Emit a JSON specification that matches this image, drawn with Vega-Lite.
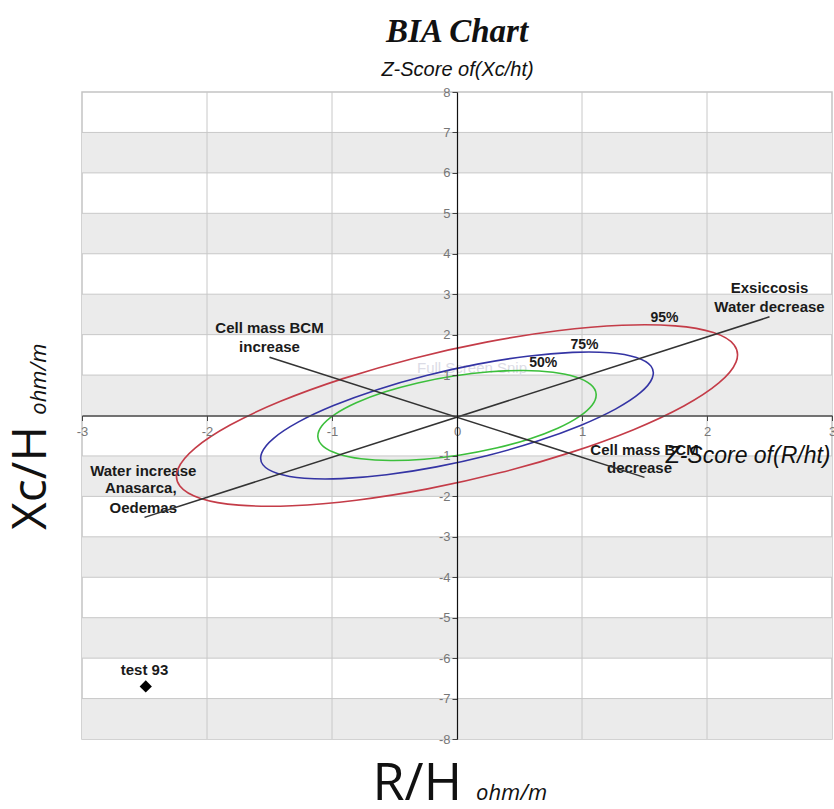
{
  "$schema": "https://vega.github.io/schema/vega-lite/v6.json",
  "width": 750,
  "height": 647,
  "autosize": {"type": "none"},
  "padding": {"left": 82, "top": 92, "right": 2, "bottom": 70},
  "background": "white",
  "config": {
    "font": "Liberation Sans",
    "view": {"stroke": "#c4c4c4", "strokeWidth": 1.5},
    "axis": {"grid": false}
  },
  "resolve": {"axis": {"x": "independent", "y": "independent"}},
  "datasets": {
    "bands": [
      {"lo": 6, "hi": 7}, {"lo": 4, "hi": 5}, {"lo": 2, "hi": 3}, {"lo": 0, "hi": 1},
      {"lo": -2, "hi": -1}, {"lo": -4, "hi": -3}, {"lo": -6, "hi": -5}, {"lo": -8, "hi": -7}
    ],
    "vgrid": [{"x": -2}, {"x": -1}, {"x": 1}, {"x": 2}],
    "hgrid": [
      {"y": -7}, {"y": -6}, {"y": -5}, {"y": -4}, {"y": -3}, {"y": -2}, {"y": -1},
      {"y": 1}, {"y": 2}, {"y": 3}, {"y": 4}, {"y": 5}, {"y": 6}, {"y": 7}
    ],
    "labels": [
      {"x": -1.5, "y": 2.17, "t": "Cell mass BCM"},
      {"x": -1.5, "y": 1.70, "t": "increase"},
      {"x": 2.5, "y": 3.16, "t": "Exsiccosis"},
      {"x": 2.5, "y": 2.69, "t": "Water decrease"},
      {"x": -2.51, "y": -1.37, "t": "Water increase"},
      {"x": -2.53, "y": -1.80, "t": "Anasarca,"},
      {"x": -2.51, "y": -2.29, "t": "Oedemas"},
      {"x": 1.5, "y": -0.85, "t": "Cell mass BCM"},
      {"x": 1.46, "y": -1.30, "t": "decrease"},
      {"x": -2.5, "y": -6.30, "t": "test 93"}
    ],
    "pct": [
      {"x": 1.66, "y": 2.41, "t": "95%"},
      {"x": 1.02, "y": 1.75, "t": "75%"},
      {"x": 0.69, "y": 1.30, "t": "50%"}
    ],
    "watermark": [{"x": 0.12, "y": 1.17, "t": "Full Screen Snip"}],
    "heading": [{"x": 0, "y": 9.245, "t": "BIA Chart"}],
    "ellipses": [
      {"level": "95%", "i": 0, "x": 2.051, "y": 2.051},
      {"level": "95%", "i": 1, "x": 2.217, "y": 1.745},
      {"level": "95%", "i": 2, "x": 2.232, "y": 1.320},
      {"level": "95%", "i": 3, "x": 2.095, "y": 0.805},
      {"level": "95%", "i": 4, "x": 1.815, "y": 0.235},
      {"level": "95%", "i": 5, "x": 1.412, "y": -0.350},
      {"level": "95%", "i": 6, "x": 0.912, "y": -0.912},
      {"level": "95%", "i": 7, "x": 0.350, "y": -1.412},
      {"level": "95%", "i": 8, "x": -0.235, "y": -1.815},
      {"level": "95%", "i": 9, "x": -0.805, "y": -2.095},
      {"level": "95%", "i": 10, "x": -1.320, "y": -2.232},
      {"level": "95%", "i": 11, "x": -1.745, "y": -2.217},
      {"level": "95%", "i": 12, "x": -2.051, "y": -2.051},
      {"level": "95%", "i": 13, "x": -2.217, "y": -1.745},
      {"level": "95%", "i": 14, "x": -2.232, "y": -1.320},
      {"level": "95%", "i": 15, "x": -2.095, "y": -0.805},
      {"level": "95%", "i": 16, "x": -1.815, "y": -0.235},
      {"level": "95%", "i": 17, "x": -1.412, "y": 0.350},
      {"level": "95%", "i": 18, "x": -0.912, "y": 0.912},
      {"level": "95%", "i": 19, "x": -0.350, "y": 1.412},
      {"level": "95%", "i": 20, "x": 0.235, "y": 1.815},
      {"level": "95%", "i": 21, "x": 0.805, "y": 2.095},
      {"level": "95%", "i": 22, "x": 1.320, "y": 2.232},
      {"level": "95%", "i": 23, "x": 1.745, "y": 2.217},
      {"level": "75%", "i": 0, "x": 1.435, "y": 1.435},
      {"level": "75%", "i": 1, "x": 1.552, "y": 1.221},
      {"level": "75%", "i": 2, "x": 1.562, "y": 0.924},
      {"level": "75%", "i": 3, "x": 1.467, "y": 0.564},
      {"level": "75%", "i": 4, "x": 1.271, "y": 0.165},
      {"level": "75%", "i": 5, "x": 0.988, "y": -0.245},
      {"level": "75%", "i": 6, "x": 0.639, "y": -0.639},
      {"level": "75%", "i": 7, "x": 0.245, "y": -0.988},
      {"level": "75%", "i": 8, "x": -0.165, "y": -1.271},
      {"level": "75%", "i": 9, "x": -0.564, "y": -1.467},
      {"level": "75%", "i": 10, "x": -0.924, "y": -1.562},
      {"level": "75%", "i": 11, "x": -1.221, "y": -1.552},
      {"level": "75%", "i": 12, "x": -1.435, "y": -1.435},
      {"level": "75%", "i": 13, "x": -1.552, "y": -1.221},
      {"level": "75%", "i": 14, "x": -1.562, "y": -0.924},
      {"level": "75%", "i": 15, "x": -1.467, "y": -0.564},
      {"level": "75%", "i": 16, "x": -1.271, "y": -0.165},
      {"level": "75%", "i": 17, "x": -0.988, "y": 0.245},
      {"level": "75%", "i": 18, "x": -0.639, "y": 0.639},
      {"level": "75%", "i": 19, "x": -0.245, "y": 0.988},
      {"level": "75%", "i": 20, "x": 0.165, "y": 1.271},
      {"level": "75%", "i": 21, "x": 0.564, "y": 1.467},
      {"level": "75%", "i": 22, "x": 0.924, "y": 1.562},
      {"level": "75%", "i": 23, "x": 1.221, "y": 1.552},
      {"level": "50%", "i": 0, "x": 0.950, "y": 0.950},
      {"level": "50%", "i": 1, "x": 1.068, "y": 0.768},
      {"level": "50%", "i": 2, "x": 1.113, "y": 0.533},
      {"level": "50%", "i": 3, "x": 1.082, "y": 0.262},
      {"level": "50%", "i": 4, "x": 0.977, "y": -0.027},
      {"level": "50%", "i": 5, "x": 0.806, "y": -0.314},
      {"level": "50%", "i": 6, "x": 0.580, "y": -0.580},
      {"level": "50%", "i": 7, "x": 0.314, "y": -0.806},
      {"level": "50%", "i": 8, "x": 0.027, "y": -0.977},
      {"level": "50%", "i": 9, "x": -0.262, "y": -1.082},
      {"level": "50%", "i": 10, "x": -0.533, "y": -1.113},
      {"level": "50%", "i": 11, "x": -0.768, "y": -1.068},
      {"level": "50%", "i": 12, "x": -0.950, "y": -0.950},
      {"level": "50%", "i": 13, "x": -1.068, "y": -0.768},
      {"level": "50%", "i": 14, "x": -1.113, "y": -0.533},
      {"level": "50%", "i": 15, "x": -1.082, "y": -0.262},
      {"level": "50%", "i": 16, "x": -0.977, "y": 0.027},
      {"level": "50%", "i": 17, "x": -0.806, "y": 0.314},
      {"level": "50%", "i": 18, "x": -0.580, "y": 0.580},
      {"level": "50%", "i": 19, "x": -0.314, "y": 0.806},
      {"level": "50%", "i": 20, "x": -0.027, "y": 0.977},
      {"level": "50%", "i": 21, "x": 0.262, "y": 1.082},
      {"level": "50%", "i": 22, "x": 0.533, "y": 1.113},
      {"level": "50%", "i": 23, "x": 0.768, "y": 1.068}
    ],
    "segments": [
      {"x": -2.5, "y": -2.52, "x2": 2.5, "y2": 2.44},
      {"x": -1.5, "y": 1.44, "x2": 1.5, "y2": -1.53}
    ],
    "points": [{"name": "test 93", "x": -2.49, "y": -6.70}],
    "bottomBig": [{"x": 0.04, "y": -9.52, "t": "R/H"}],
    "bottomSmall": [{"x": 0.152, "y": -9.52, "t": "ohm/m"}],
    "leftBig": [{"x": -3.285, "y": -2.83, "t": "Xc/H"}],
    "leftSmall": [{"x": -3.285, "y": 0.02, "t": "ohm/m"}]
  },
  "layer": [
    {
      "data": {"name": "bands"},
      "mark": {"type": "rect", "color": "#ebebeb"},
      "encoding": {
        "x": {"datum": -3, "type": "quantitative", "scale": {"domain": [-3, 3], "nice": false, "zero": false}, "axis": null},
        "x2": {"datum": 3},
        "y": {"field": "lo", "type": "quantitative", "scale": {"domain": [-8, 8], "nice": false, "zero": false}, "axis": null},
        "y2": {"field": "hi"}
      }
    },
    {
      "data": {"name": "vgrid"},
      "mark": {"type": "rule", "color": "#c8c8c8", "strokeWidth": 1},
      "encoding": {
        "x": {"field": "x", "type": "quantitative", "axis": null}
      }
    },
    {
      "data": {"name": "hgrid"},
      "mark": {"type": "rule", "color": "#c8c8c8", "strokeWidth": 1},
      "encoding": {
        "y": {"field": "y", "type": "quantitative", "axis": null}
      }
    },
    {
      "data": {"name": "watermark"},
      "mark": {"type": "text", "fontSize": 15, "color": "#dcdce6", "align": "center", "baseline": "middle"},
      "encoding": {
        "x": {"field": "x", "type": "quantitative", "axis": null},
        "y": {"field": "y", "type": "quantitative", "axis": null},
        "text": {"field": "t"}
      }
    },
    {
      "data": {"name": "labels"},
      "mark": {"type": "text", "fontSize": 15, "fontWeight": "bold", "color": "#1a1a1a", "align": "center", "baseline": "middle"},
      "encoding": {
        "x": {"field": "x", "type": "quantitative", "axis": null},
        "y": {"field": "y", "type": "quantitative", "axis": null},
        "text": {"field": "t"}
      }
    },
    {
      "data": {"name": "pct"},
      "mark": {"type": "text", "fontSize": 14, "fontWeight": "bold", "color": "#1a1a1a", "align": "center", "baseline": "middle"},
      "encoding": {
        "x": {"field": "x", "type": "quantitative", "axis": null},
        "y": {"field": "y", "type": "quantitative", "axis": null},
        "text": {"field": "t"}
      }
    },
    {
      "data": {"name": "ellipses"},
      "mark": {"type": "line", "interpolate": "cardinal-closed", "strokeWidth": 1.6},
      "encoding": {
        "x": {
          "field": "x", "type": "quantitative",
          "axis": {
            "orient": "bottom", "offset": -323.5,
            "values": [-3, -2, -1, 0, 1, 2, 3],
            "labelExpr": "'' + datum.value",
            "domainColor": "#444444", "domainWidth": 1.5,
            "tickColor": "#444444", "tickSize": 5, "tickWidth": 1,
            "labelColor": "#777777", "labelFontSize": 13, "labelPadding": 5,
            "labelFlush": false, "labelOverlap": false, "labelBound": false,
            "title": "Z-Score of(R/ht)", "titleFontStyle": "italic", "titleFontWeight": "normal",
            "titleFontSize": 23, "titleColor": "#111111",
            "titleX": 748, "titleY": 47, "titleAlign": "right", "titleBaseline": "alphabetic",
            "zindex": 1, "grid": false
          }
        },
        "y": {
          "field": "y", "type": "quantitative",
          "axis": {
            "orient": "left", "offset": -375,
            "values": [-8, -7, -6, -5, -4, -3, -2, -1, 1, 2, 3, 4, 5, 6, 7, 8],
            "labelExpr": "'' + datum.value",
            "domainColor": "#111111", "domainWidth": 1.2,
            "tickColor": "#444444", "tickSize": 5, "tickWidth": 1,
            "labelColor": "#777777", "labelFontSize": 13, "labelPadding": 2,
            "labelOverlap": false, "labelBound": false, "labelFlush": false,
            "title": "Z-Score of(Xc/ht)", "titleAngle": 0, "titleFontStyle": "italic", "titleFontWeight": "normal",
            "titleFontSize": 20, "titleColor": "#111111",
            "titleX": 0, "titleY": -17, "titleAlign": "center", "titleBaseline": "alphabetic",
            "zindex": 1, "grid": false
          }
        },
        "color": {
          "field": "level", "type": "nominal",
          "scale": {"domain": ["95%", "75%", "50%"], "range": ["#c43c48", "#3434a4", "#3cbf3c"]},
          "legend": null
        },
        "order": {"field": "i", "type": "quantitative"}
      }
    },
    {
      "data": {"name": "segments"},
      "mark": {"type": "rule", "color": "#333333", "strokeWidth": 1.5},
      "encoding": {
        "x": {"field": "x", "type": "quantitative", "axis": null},
        "y": {"field": "y", "type": "quantitative", "axis": null},
        "x2": {"field": "x2"},
        "y2": {"field": "y2"}
      }
    },
    {
      "data": {"name": "points"},
      "mark": {"type": "point", "shape": "diamond", "filled": true, "size": 150, "color": "#000000", "opacity": 1},
      "encoding": {
        "x": {"field": "x", "type": "quantitative", "axis": null},
        "y": {"field": "y", "type": "quantitative", "axis": null}
      }
    },
    {
      "data": {"name": "heading"},
      "mark": {"type": "text", "font": "Liberation Serif", "fontStyle": "italic", "fontWeight": "bold", "fontSize": 33, "color": "#111111", "align": "center", "baseline": "alphabetic"},
      "encoding": {
        "x": {"field": "x", "type": "quantitative", "axis": null},
        "y": {"field": "y", "type": "quantitative", "axis": null},
        "text": {"field": "t"}
      }
    },
    {
      "data": {"name": "bottomBig"},
      "mark": {"type": "text", "font": "Open Sans", "fontSize": 52, "color": "#111111", "baseline": "alphabetic", "align": "right"},
      "encoding": {
        "x": {"field": "x", "type": "quantitative", "axis": null},
        "y": {"field": "y", "type": "quantitative", "axis": null},
        "text": {"field": "t"}
      }
    },
    {
      "data": {"name": "bottomSmall"},
      "mark": {"type": "text", "font": "Open Sans", "fontSize": 22, "fontStyle": "italic", "color": "#111111", "baseline": "alphabetic", "align": "left"},
      "encoding": {
        "x": {"field": "x", "type": "quantitative", "axis": null},
        "y": {"field": "y", "type": "quantitative", "axis": null},
        "text": {"field": "t"}
      }
    },
    {
      "data": {"name": "leftBig"},
      "mark": {"type": "text", "font": "Open Sans", "fontSize": 48, "color": "#111111", "baseline": "alphabetic", "align": "left", "angle": 270},
      "encoding": {
        "x": {"field": "x", "type": "quantitative", "axis": null},
        "y": {"field": "y", "type": "quantitative", "axis": null},
        "text": {"field": "t"}
      }
    },
    {
      "data": {"name": "leftSmall"},
      "mark": {"type": "text", "font": "Open Sans", "fontSize": 22, "fontStyle": "italic", "color": "#111111", "baseline": "alphabetic", "align": "left", "angle": 270},
      "encoding": {
        "x": {"field": "x", "type": "quantitative", "axis": null},
        "y": {"field": "y", "type": "quantitative", "axis": null},
        "text": {"field": "t"}
      }
    }
  ]
}
